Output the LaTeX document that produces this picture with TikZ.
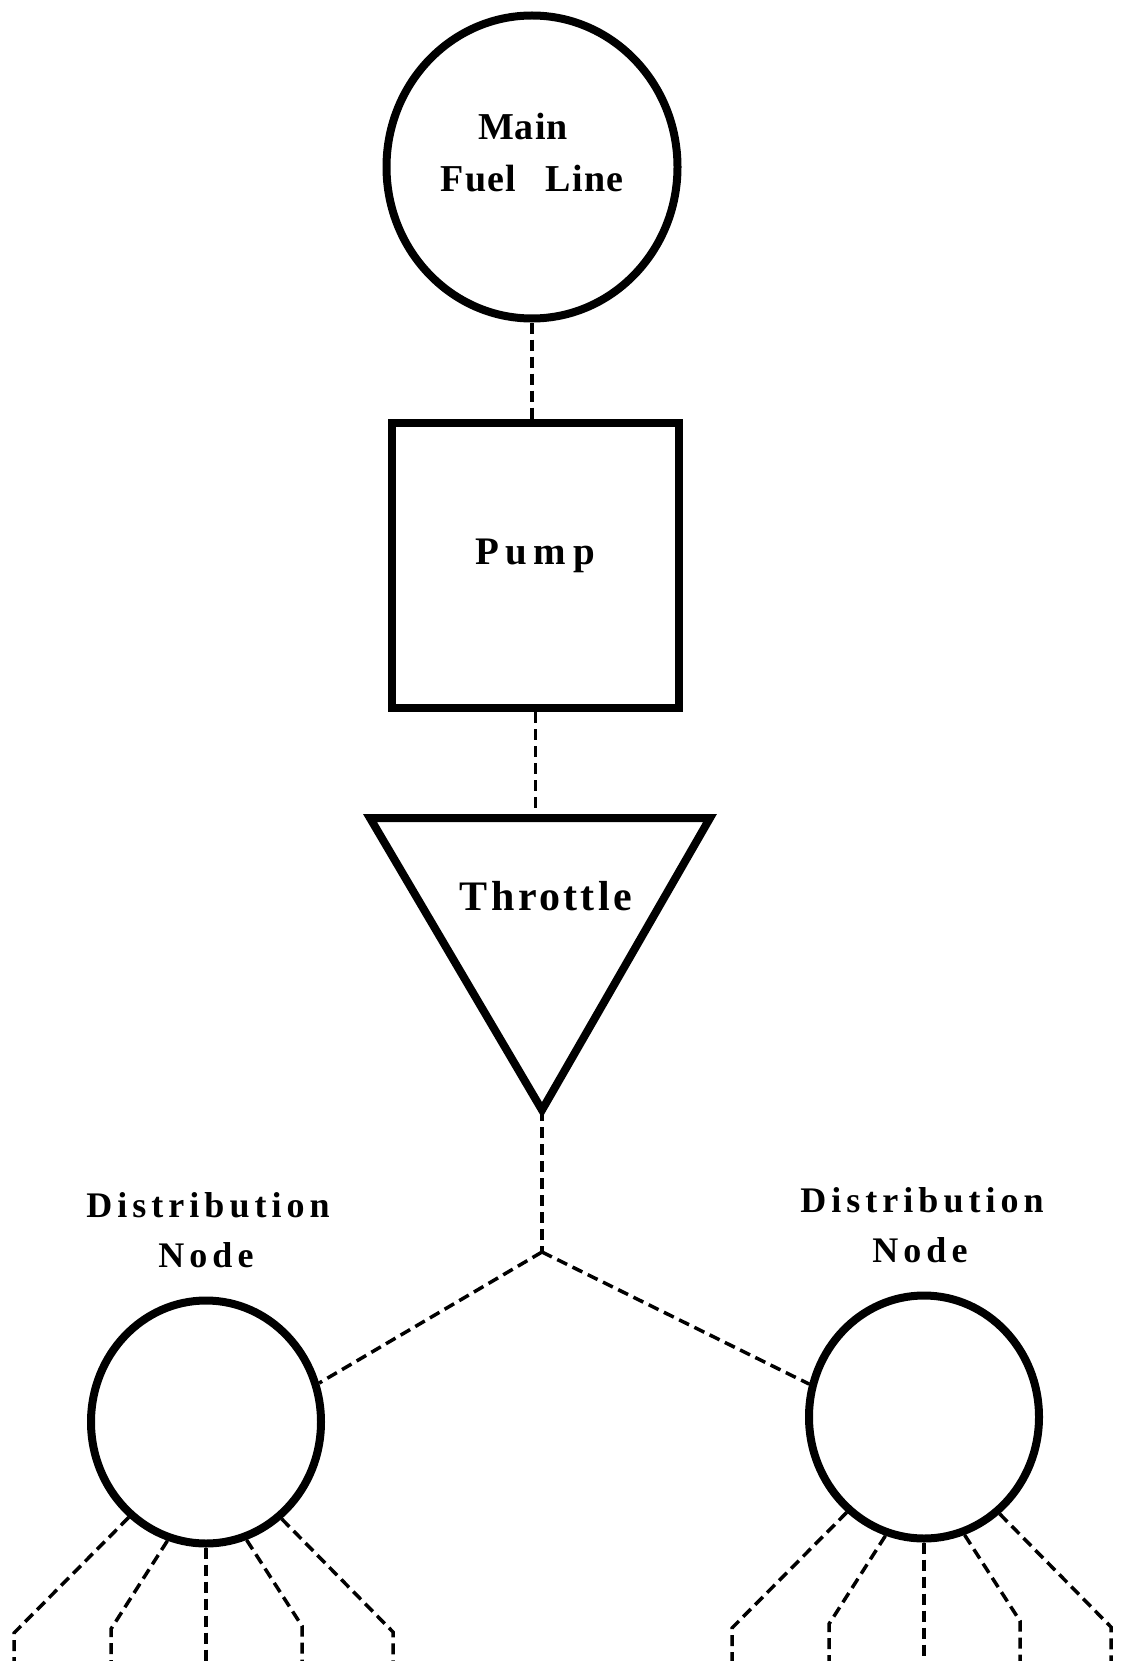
\documentclass[tikz,border=0pt]{standalone}
\usepackage{fontspec}
\setmainfont{Liberation Serif}
\usetikzlibrary{shapes.geometric,calc}

\tikzset{
  part/.style={draw,line width=8pt,inner sep=0pt},
  tank/.style={part,ellipse},
  pumpbox/.style={part,rectangle},
  pipe/.style={line width=3.5pt,dash pattern=on 11pt off 6pt},
  tag/.style={inner sep=0pt,anchor=base}
}

\begin{document}
\begin{tikzpicture}[x=1pt,y=-1pt]
\def\mainfnt{\bfseries\fontsize{38}{50}\selectfont\addfontfeatures{LetterSpace=3}}
\def\pumpfnt{\bfseries\fontsize{39}{50}\selectfont\addfontfeatures{LetterSpace=17}}
\def\thrfnt{\bfseries\fontsize{42}{50}\selectfont\addfontfeatures{LetterSpace=8}}
\def\distfnt{\bfseries\fontsize{36}{50}\selectfont\addfontfeatures{LetterSpace=14}}
  \useasboundingbox (0,0) rectangle (1123,1661);
  % main line
  \node[tank,minimum width=291pt,minimum height=303pt] (main) at (532,167) {};
  \node[tag,font=\mainfnt] at (523,140) {Main};
  \node[tag,font=\mainfnt] at (532,192) {Fuel\hspace{30pt}Line};
  % pump
  \node[pumpbox,minimum width=287pt,minimum height=285pt] (pump) at (535.5,565.5) {};
  \node[tag,font=\pumpfnt] at (535,564) {Pump};
  % throttle
  \coordinate (thrL) at (370,818);
  \coordinate (thrR) at (710,818);
  \coordinate (thrB) at (542,1110);
  \coordinate (thrT) at (535.5,818);
  \draw[line width=8pt] (thrL) -- (thrR) -- (thrB) -- cycle;
  \node[tag,font=\thrfnt] at (546,910) {Throttle};
  % distribution nodes
  \coordinate (jn) at (542,1252);
  \node[tank,minimum width=230pt,minimum height=243pt] (distL) at (206,1422) {};
  \node[tank,minimum width=230pt,minimum height=243pt] (distR) at (924,1417) {};
  \foreach \x/\y in {208/1217,922/1212}
    {
     \node[tag,font=\distfnt] at (\x,\y) {Distribution};
     \node[tag,font=\distfnt] at (\x-2,\y+50) {Node};
    }
  % fuel lines
  \draw[pipe] (main.south) -- (main.south |- pump.north);
  \draw[pipe] (pump.south) -- (thrT);
  \draw[pipe] (thrB) -- (jn);
  \draw[pipe] (jn) -- (distL.19);
  \draw[pipe] (jn) -- (distR.164);
  \foreach \n in {distL,distR}
    {
     \draw[pipe] (\n.270) -- ++(0,130);
     \foreach \a/\dx/\dy in {231/-192/211,252/-95/207,289/96/204,308/187/210}
       {
        \draw[pipe] (\n.\a) -- ($(\n.center)+(\dx,\dy)$) -- ++(0,40);
       }
    }
\end{tikzpicture}
\end{document}
